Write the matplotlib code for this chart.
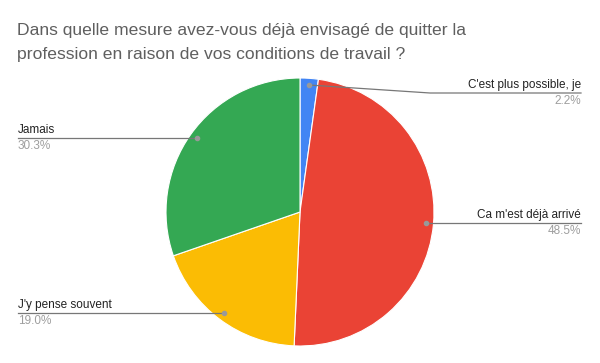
import matplotlib.pyplot as plt

labels = ["C'est plus possible, je", "Ca m'est déjà arrivé", "J'y pense souvent", "Jamais"]
values = [2.2, 48.5, 19.0, 30.3]
pct_text = ["2.2%", "48.5%", "19.0%", "30.3%"]
colors = ["#4285F4", "#EA4335", "#FBBC04", "#34A853"]
title_lines = ["Dans quelle mesure avez-vous déjà envisagé de quitter la",
               "profession en raison de vos conditions de travail ?"]

W, H = 600, 363
fig = plt.figure(figsize=(6, 3.63), dpi=100)
ax = fig.add_axes([0, 0, 1, 1])

plt.rcParams["font.family"] = ["Liberation Sans", "DejaVu Sans"]

cx, cy, r = 300, H - 212, 134
ax.pie(values, colors=colors, startangle=90, counterclock=False,
       center=(cx, cy), radius=r, frame=True,
       wedgeprops=dict(edgecolor="white", linewidth=0.8))
ax.set_xlim(0, W)
ax.set_ylim(0, H)
ax.set_aspect("equal")
ax.axis("off")

for k, line in enumerate(title_lines):
    ax.text(17, H - (30 + 24 * k), line, fontsize=12.6, color="#5f5f5f",
            va="center", ha="left", family="Liberation Sans")

# label layout: (line path starting at the dot, text x, alignment, line y)
layout = [
    ([(309, 85), (430, 93), (581, 93)], 581, "right", 93),
    ([(426, 223), (581, 223)], 581, "right", 223),
    ([(224, 313), (18, 313)], 18, "left", 313),
    ([(197, 138), (18, 138)], 18, "left", 138),
]
for i, (path, tx, ha, ly) in enumerate(layout):
    xs = [p[0] for p in path]
    ys = [H - p[1] for p in path]
    ax.plot(xs, ys, color="#777777", lw=0.9)
    ax.plot(xs[0], ys[0], "o", color="#999999", ms=3)
    ax.text(tx, H - ly + 2, labels[i], ha=ha, va="bottom", fontsize=8.5, color="#222222",
            family="Liberation Sans")
    ax.text(tx, H - ly - 2, pct_text[i], ha=ha, va="top", fontsize=8.5, color="#9e9e9e",
            family="Liberation Sans")

fig.savefig("out.png", dpi=100, facecolor="white")
